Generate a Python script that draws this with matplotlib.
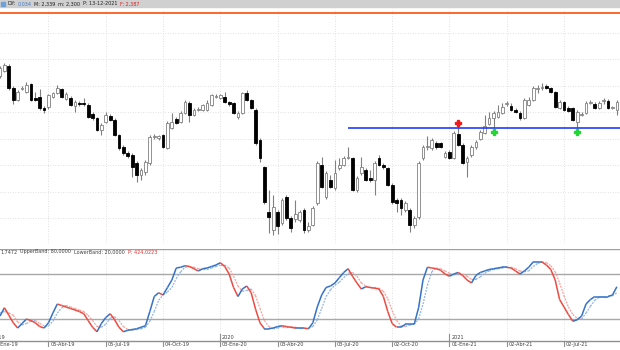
import matplotlib
matplotlib.use("Agg")
import matplotlib.pyplot as plt
from matplotlib.collections import LineCollection
from matplotlib.patches import Rectangle

# velas semanales (unidades de precio del grafico)
opens = [174, 179, 184, 162, 150, 161, 158, 166, 152, 153, 142, 143, 153, 157, 161, 151, 152, 144, 147, 147,
         145, 136, 132, 120, 128, 134, 130, 115, 103, 97, 95, 87, 75, 78, 87, 113, 112, 115, 102, 122,
         131, 128, 137, 147, 135, 140, 140, 140, 145, 153, 152, 153, 148, 147, 133, 137, 157, 150, 140, 110,
         83, 38, 20, 38, 27, 53, 32, 31, 30, 40, 20, 25, 47, 85, 53, 70, 62, 82, 85, 92,
         92, 60, 77, 80, 72, 70, 92, 85, 82, 65, 50, 50, 40, 40, 25, 33, 92, 103, 102, 107,
         107, 93, 98, 92, 116, 105, 88, 95, 103, 111, 117, 126, 132, 133, 137, 146, 144, 140, 137, 132,
         145, 150, 161, 162, 164, 162, 158, 142, 148, 142, 142, 128, 135, 137, 147, 146, 142, 149, 149, 142,
         140]
highs = [184, 187, 186, 164, 160, 164, 168, 167, 158, 161, 144, 156, 158, 165, 162, 158, 154, 150, 149, 152,
         147, 138, 133, 127, 138, 136, 132, 116, 105, 99, 97, 89, 82, 90, 115, 116, 115, 116, 129, 137,
         133, 139, 150, 149, 142, 143, 146, 150, 156, 156, 156, 158, 149, 148, 139, 158, 160, 151, 142, 112,
         84, 60, 55, 40, 52, 55, 34, 50, 40, 42, 28, 44, 89, 93, 79, 75, 90, 92, 94, 103,
         93, 74, 93, 82, 80, 89, 95, 87, 83, 67, 52, 52, 49, 42, 34, 89, 105, 114, 112, 109,
         108, 99, 100, 119, 125, 107, 94, 105, 110, 120, 135, 138, 139, 145, 147, 149, 147, 142, 139, 152,
         153, 164, 165, 167, 166, 163, 159, 150, 149, 144, 143, 140, 138, 149, 150, 148, 149, 152, 151, 144,
         150]
lows = [172, 178, 160, 146, 149, 160, 157, 149, 149, 140, 137, 141, 152, 156, 152, 150, 144, 138, 144, 144,
        132, 130, 119, 115, 127, 129, 114, 100, 95, 92, 73, 68, 70, 75, 85, 111, 110, 102, 101, 121,
        126, 127, 136, 128, 134, 139, 139, 139, 144, 152, 151, 147, 144, 136, 131, 136, 149, 141, 105, 88,
        46, 17, 15, 16, 25, 30, 18, 28, 28, 17, 18, 24, 45, 62, 51, 62, 60, 80, 84, 91,
        59, 58, 75, 69, 68, 55, 84, 81, 64, 46, 38, 35, 38, 18, 22, 31, 90, 100, 100, 101,
        102, 92, 91, 91, 104, 86, 73, 93, 101, 110, 116, 125, 122, 132, 136, 144, 139, 137, 130, 131,
        144, 149, 157, 160, 161, 157, 142, 141, 139, 138, 129, 120, 134, 136, 146, 141, 141, 146, 141, 141,
        135]
closes = [182, 185, 162, 150, 158, 162, 165, 150, 150, 142, 140, 155, 157, 162, 153, 156, 145, 148, 146, 146,
          133, 132, 120, 125, 135, 130, 115, 102, 97, 94, 83, 75, 80, 88, 113, 114, 114, 103, 127, 128,
          127, 137, 148, 135, 140, 141, 145, 147, 155, 154, 155, 148, 146, 137, 137, 157, 150, 142, 107, 92,
          48, 33, 43, 24, 50, 32, 22, 36, 38, 20, 24, 42, 87, 63, 77, 63, 77, 85, 92, 93,
          60, 72, 83, 70, 70, 87, 85, 83, 65, 48, 47, 42, 47, 25, 32, 87, 103, 104, 110, 103,
          103, 97, 92, 117, 105, 87, 92, 103, 108, 118, 124, 132, 137, 138, 143, 147, 140, 138, 132, 150,
          150, 162, 162, 163, 162, 158, 143, 148, 140, 139, 130, 138, 136, 147, 148, 142, 147, 150, 142, 143,
          148]

# estocastico %K y %D
stoch_k = [24, 35, 25, 15, 8, 14, 20, 18, 15, 10, 8, 15, 28, 40, 38, 36, 34, 32, 30, 27,
           18, 9, 3, 14, 22, 27, 19, 9, 3, 5, 6, 7, 9, 11, 30, 50, 55, 52, 62, 72,
           88, 89, 91, 90, 87, 84, 87, 88, 90, 92, 95, 90, 80, 62, 50, 60, 64, 55, 33, 15,
           7, 7, 8, 10, 11, 10, 9, 8, 8, 8, 7, 15, 36, 52, 62, 64, 68, 75, 82, 87,
           77, 68, 60, 63, 62, 61, 60, 50, 30, 14, 9, 9, 13, 13, 13, 35, 72, 89, 88, 87,
           85, 80, 77, 80, 82, 78, 72, 68, 78, 82, 84, 86, 87, 88, 89, 89, 88, 84, 80, 84,
           89, 96, 96, 96, 92, 86, 72, 46, 36, 26, 17, 19, 24, 40, 46, 50, 50, 50, 50, 52,
           63]
stoch_d = [28, 30, 28, 25, 16, 12, 14, 17, 18, 14, 11, 11, 17, 28, 35, 38, 36, 34, 32, 30,
           25, 18, 10, 9, 13, 21, 23, 18, 10, 6, 5, 6, 7, 9, 17, 30, 45, 52, 56, 62,
           74, 83, 89, 90, 89, 87, 86, 86, 88, 90, 92, 92, 88, 77, 64, 57, 58, 60, 51, 34,
           18, 10, 7, 8, 10, 10, 10, 9, 8, 8, 8, 10, 19, 34, 50, 59, 65, 69, 75, 81,
           82, 77, 68, 64, 62, 62, 61, 57, 47, 31, 18, 11, 10, 12, 13, 20, 40, 65, 83, 88,
           87, 84, 81, 79, 80, 80, 77, 73, 73, 76, 81, 84, 86, 87, 88, 89, 89, 87, 84, 83,
           84, 90, 94, 96, 95, 91, 83, 68, 51, 36, 26, 21, 20, 28, 37, 45, 49, 50, 50, 51,
           55]

tick_idx = [-2, 11, 24, 37, 50, 63, 76, 89, 102, 115, 128]
tick_labels = ["04-Ene-19", "05-Abr-19", "05-Jul-19", "04-Oct-19", "03-Ene-20", "03-Abr-20",
               "03-Jul-20", "02-Oct-20", "01-Ene-21", "02-Abr-21", "02-Jul-21"]
year_idx = [-2, 50, 102]
year_labels = ["2019", "2020", "2021"]

resistance = 237
support = 122
support_start = 79
signal_idx = [104, 112, 131]
signal_price = [127, 118, 118]
signal_color = ["#ee1c1c", "#22d633", "#22d633"]
upper_band = 80
lower_band = 20
grid_prices = [217, 191, 164, 138, 111, 85, 58, 32]

header_parts = ["Dif:", "0,034", "M: 2,339", "m: 2,300", "P: 13-12-2021", "F: 2,387"]
header_colors = ['#202020', '#3a78c8', '#202020', '#202020', '#202020', '#e02020']
label_parts = ["1,7472", "UpperBand: 80,0000", "LowerBand: 20,0000", "P: 424,0223"]
label_colors = ['#404040', '#404040', '#404040', '#e03030']

W, H = 620, 350
n = len(closes)
xmin, xmax = -0.007, 140.71

plt.rcParams['font.family'] = ['Liberation Sans Narrow', 'DejaVu Sans']
fig = plt.figure(figsize=(6.2, 3.5), dpi=100)
fig.patch.set_facecolor('white')


def px_axes(top, bottom):
    return fig.add_axes([0, 1 - bottom / H, 1, (bottom - top) / H])


ax = px_axes(9, 244)
ax2 = px_axes(249, 341)
for a in (ax, ax2):
    a.set_xlim(xmin, xmax)
    a.set_xticks([])
    a.set_yticks([])
    for s in a.spines.values():
        s.set_visible(False)
    for t in tick_idx:
        a.axvline(t, color='#d8d8d8', lw=0.6, ls=(0, (1, 2)), zorder=0)

ax.set_ylim(6, 241)
for g in grid_prices:
    ax.axhline(g, color='#d8d8d8', lw=0.6, ls=(0, (1, 2)), zorder=0)

# velas
xs = list(range(n))
ax.vlines(xs, lows, highs, color='#808080', lw=0.8, zorder=2)
for i in xs:
    o, c = opens[i], closes[i]
    up = c >= o
    h = max(abs(c - o), 0.7)
    ax.bar(i, h, bottom=min(o, c), width=0.62,
           color='white' if up else 'black',
           edgecolor='#808080' if up else 'black', lw=0.6, zorder=3)

ax.axhline(resistance, color='#ff5a1e', lw=1.3, zorder=4)
ax.hlines(support, support_start, xmax, color='#1f3cff', lw=1.2, zorder=4)
for i, p, col in zip(signal_idx, signal_price, signal_color):
    ax.plot(i, p, marker='P', ms=5, color=col, mec=col, zorder=5)

# panel estocastico
ax2.set_ylim(-9.3, 113.3)
ax2.axhline(upper_band, color='#a8a8a8', lw=1.0, zorder=1)
ax2.axhline(lower_band, color='#a8a8a8', lw=1.0, zorder=1)
ax2.axhline(113, color='#a0a0a0', lw=1.0, zorder=1)


def colored(values, up_col, dn_col, lw, ls):
    segs, cols = [], []
    for i in range(len(values) - 1):
        segs.append([(i, values[i]), (i + 1, values[i + 1])])
        cols.append(up_col if values[i + 1] >= values[i] else dn_col)
    return LineCollection(segs, colors=cols, linewidths=lw, linestyles=ls)


ax2.add_collection(colored(stoch_d, '#8fb3e6', '#f3a09a', 0.9, (0, (1.5, 1))))
ax2.add_collection(colored(stoch_k, '#3572c6', '#ec4b42', 1.1, 'solid'))

# eje de fechas
fig.add_artist(plt.Line2D([0, 1], [1 - 341 / H, 1 - 341 / H], color='#909090', lw=1.0))
for t, lab in zip(tick_idx, tick_labels):
    ax2.plot([t, t], [-9.3, -16], color='#909090', lw=0.8, clip_on=False)
    ax2.text(t + 0.4, -14, lab, fontsize=3.6, color='#404040', va='center', ha='left', clip_on=False)
for t, lab in zip(year_idx, year_labels):
    ax2.plot([t, t], [-9.3, 0], color='#909090', lw=0.8, clip_on=False)
    ax2.text(t + 0.4, -4.5, lab, fontsize=3.6, color='#404040', va='center', ha='left')

# cabecera
fig.patches.append(Rectangle((0, 1 - 7 / H), 1, 7 / H, transform=fig.transFigure,
                             color='#d0d0d0', zorder=0))
fig.patches.append(Rectangle((1 / W, 1 - 6 / H), 4 / W, 4 / H, transform=fig.transFigure,
                             color='#6fa0d8', zorder=1))

renderer = fig.canvas.get_renderer()


def text_row(x0, y_px, parts, colors, gap):
    x = x0
    for s, col in zip(parts, colors):
        t = fig.text(x / W, 1 - y_px / H, s, fontsize=3.5, color=col, va='center', ha='left')
        x = t.get_window_extent(renderer).x1 + gap


text_row(7, 3.8, header_parts, header_colors, 2.5)
text_row(0, 252, label_parts, label_colors, 3)

fig.savefig('out.png', dpi=100)
